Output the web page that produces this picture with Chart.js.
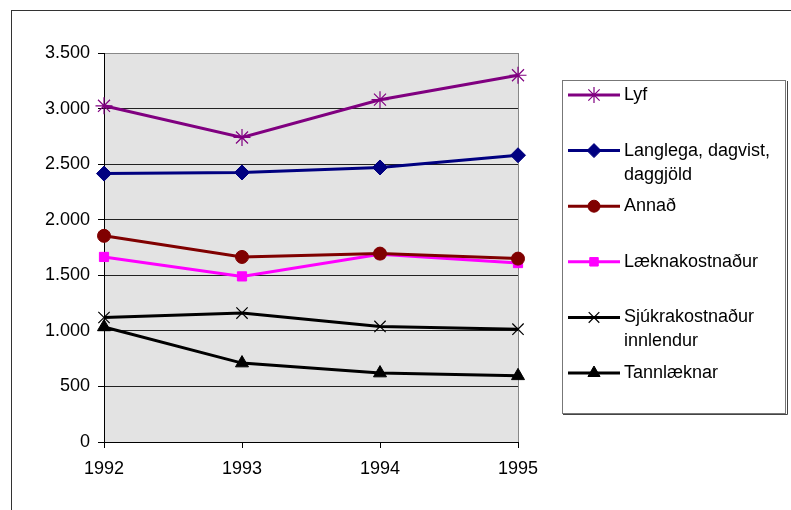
<!DOCTYPE html>
<html lang="is">
<head>
<meta charset="UTF-8">
<title>Útgjöld</title>
<script src="https://cdn.jsdelivr.net/npm/chart.js"></script>
<style>
    body { margin: 0; background: #fff; }
    #wrap { width: 791px; height: 510px; }
</style>
</head>
<body>
<div id="wrap"><canvas id="graf" width="791" height="510"></canvas></div>
<script>
var ar = ['1992', '1993', '1994', '1995'];
var lyf = [3025, 2740, 3080, 3300];
var langlega = [2415, 2425, 2470, 2580];
var annad = [1855, 1665, 1695, 1650];
var laekna = [1665, 1490, 1690, 1610];
var sjukra = [1120, 1160, 1040, 1015];
var tann = [1035, 710, 620, 595];
var yTicks = [0, 500, 1000, 1500, 2000, 2500, 3000, 3500];
var legendText = [['Lyf'], ['Langlega, dagvist,', 'daggjöld'], ['Annað'], ['Læknakostnaður'], ['Sjúkrakostnaður', 'innlendur'], ['Tannlæknar']];

var letur = '"Liberation Sans", Arial, sans-serif';

function rod(label, data, litur, stil, r) {
    return {
        label: label, data: data,
        borderColor: litur, backgroundColor: litur,
        borderWidth: 3, pointStyle: stil, pointRadius: r,
        pointBorderWidth: (stil == 'star' || stil == 'crossRot') ? 1.2 : 1,
        tension: 0, fill: false
    };
}

// grár bakgrunnur, rammi og skýringar
var teikna = {
    id: 'teikna',
    beforeDraw: function (c) {
        var ctx = c.ctx, a = c.chartArea;
        ctx.save();
        ctx.fillStyle = '#fff';
        ctx.fillRect(0, 0, c.width, c.height);
        ctx.strokeStyle = '#333';
        ctx.lineWidth = 1;
        ctx.strokeRect(11.5, 10.5, 900, 600);
        ctx.fillStyle = '#e3e3e3';
        ctx.fillRect(a.left, a.top, a.right - a.left, a.bottom - a.top);
        ctx.restore();
    },
    beforeDatasetsDraw: function (c) {
        var ctx = c.ctx, a = c.chartArea;
        ctx.save();
        ctx.strokeStyle = '#888';
        ctx.lineWidth = 1;
        ctx.beginPath();
        ctx.moveTo(Math.round(a.right) + 0.5, a.top);
        ctx.lineTo(Math.round(a.right) + 0.5, a.bottom);
        ctx.stroke();
        ctx.restore();
    },
    afterDraw: function (c) {
        var ctx = c.ctx;
        ctx.save();
        ctx.fillStyle = '#fff';
        ctx.fillRect(562, 80, 224, 334);
        ctx.strokeStyle = '#777';
        ctx.lineWidth = 1;
        ctx.strokeRect(562.5, 80.5, 223, 333);
        ctx.strokeStyle = '#444';
        ctx.beginPath();
        ctx.moveTo(563, 414.5); ctx.lineTo(787.5, 414.5); ctx.lineTo(787.5, 81);
        ctx.stroke();
        ctx.font = '18px ' + letur;
        ctx.textBaseline = 'middle';
        c.data.datasets.forEach(function (d, i) {
            var y = 95 + i * 55.6;
            ctx.strokeStyle = d.borderColor;
            ctx.lineWidth = 3;
            ctx.beginPath();
            ctx.moveTo(568, y); ctx.lineTo(620, y);
            ctx.stroke();
            ctx.fillStyle = d.borderColor;
            ctx.lineWidth = d.pointBorderWidth;
            Chart.helpers.drawPoint(ctx, {
                pointStyle: d.pointStyle, radius: d.pointRadius - 0.5, rotation: 0,
                borderWidth: d.pointBorderWidth
            }, 594, y);
            ctx.fillStyle = '#000';
            legendText[i].forEach(function (t, j) {
                ctx.fillText(t, 624, y + j * 24);
            });
        });
        ctx.restore();
    }
};

new Chart(document.getElementById('graf'), {
    type: 'line',
    data: {
        labels: ar,
        datasets: [
            rod('Lyf', lyf, '#800080', 'star', 8.5),
            rod('Langlega, dagvist, daggjöld', langlega, '#000080', 'rectRot', 7.5),
            rod('Annað', annad, '#800000', 'circle', 6.5),
            rod('Læknakostnaður', laekna, '#ff00ff', 'rect', 6.5),
            rod('Sjúkrakostnaður innlendur', sjukra, '#000000', 'crossRot', 8),
            rod('Tannlæknar', tann, '#000000', 'triangle', 7.5)
        ]
    },
    options: {
        responsive: false,
        animation: false,
        devicePixelRatio: 1,
        layout: { padding: { top: 53, right: 273, left: 0, bottom: 0 } },
        plugins: { legend: { display: false }, tooltip: { enabled: false } },
        scales: {
            x: {
                offset: false,
                grid: { drawOnChartArea: false, tickLength: 6, color: '#000' },
                border: { color: '#000', width: 1 },
                ticks: { color: '#000', padding: 10, maxRotation: 0, font: { family: letur, size: 18 } },
                afterFit: function (s) { s.height = 68; }
            },
            y: {
                min: 0, max: 3500,
                afterBuildTicks: function (s) { s.ticks = yTicks.map(function (v) { return { value: v }; }); },
                grid: {
                    tickLength: 6,
                    color: function (ctx) { return ctx.tick && ctx.tick.value == 3500 ? '#888' : '#222'; },
                    tickColor: '#000'
                },
                border: { color: '#000', width: 1 },
                ticks: {
                    color: '#000', padding: 8, font: { family: letur, size: 18 },
                    callback: function (v) { return v.toLocaleString('de-DE'); }
                },
                afterFit: function (s) { s.width = 104; }
            }
        }
    },
    plugins: [teikna]
});
</script>
</body>
</html>
